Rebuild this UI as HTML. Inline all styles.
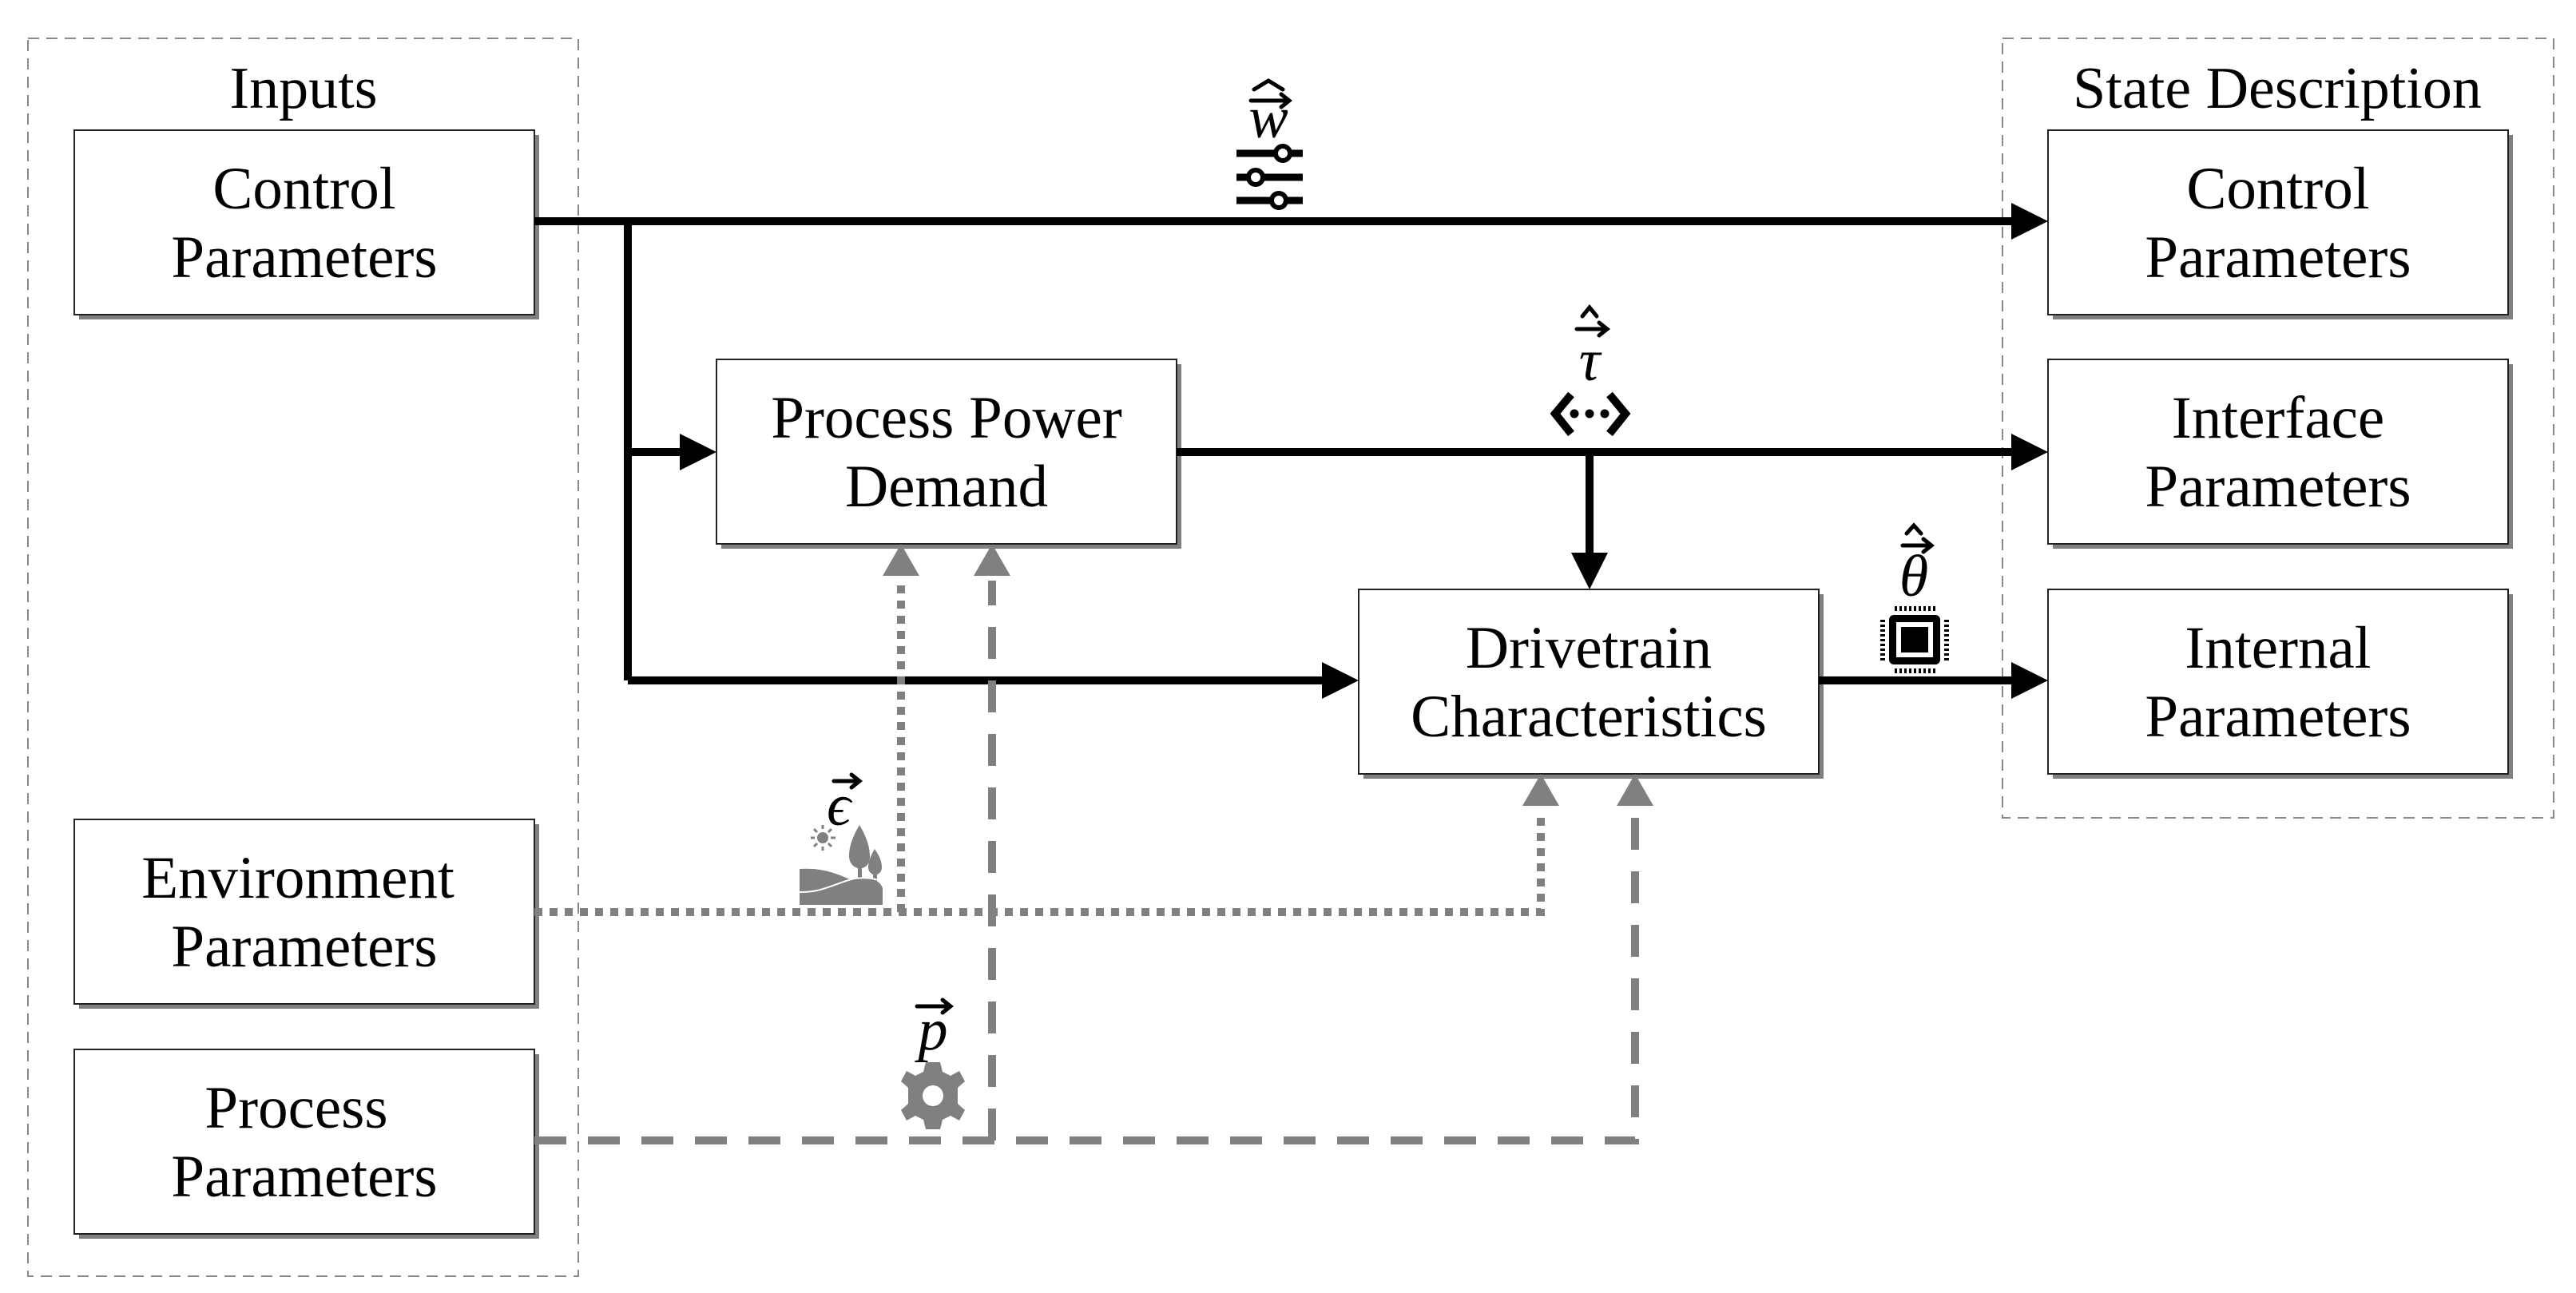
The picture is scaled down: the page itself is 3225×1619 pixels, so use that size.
<!DOCTYPE html>
<html><head><meta charset="utf-8"><style>
html,body{margin:0;padding:0;background:#fff;}
svg{display:block;}
text{font-family:"Liberation Serif",serif;}
</style></head><body>
<svg width="3225" height="1619" viewBox="0 0 3225 1619" xmlns="http://www.w3.org/2000/svg">
<rect x="35" y="48" width="689" height="1550" fill="none" stroke="#888" stroke-width="2" stroke-dasharray="14 9"/>
<rect x="2507" y="48" width="690" height="976" fill="none" stroke="#888" stroke-width="2" stroke-dasharray="14 9"/>
<text x="380" y="135" font-size="74" text-anchor="middle">Inputs</text>
<text x="2851" y="135" font-size="74" text-anchor="middle">State Description</text>

<g font-size="75" text-anchor="middle">
<g>
<rect x="99" y="169" width="576" height="231" fill="#808080"/>
<rect x="93" y="163" width="576" height="231" fill="#fff" stroke="#222" stroke-width="2"/>
<text x="381" y="261">Control</text><text x="381" y="347">Parameters</text>
</g>
<g>
<rect x="99" y="1032" width="576" height="231" fill="#808080"/>
<rect x="93" y="1026" width="576" height="231" fill="#fff" stroke="#222" stroke-width="2"/>
<text x="373" y="1124">Environment</text><text x="381" y="1210">Parameters</text>
</g>
<g>
<rect x="99" y="1320" width="576" height="231" fill="#808080"/>
<rect x="93" y="1314" width="576" height="231" fill="#fff" stroke="#222" stroke-width="2"/>
<text x="371" y="1412">Process</text><text x="381" y="1498">Parameters</text>
</g>
<g>
<rect x="903" y="456" width="576" height="231" fill="#808080"/>
<rect x="897" y="450" width="576" height="231" fill="#fff" stroke="#222" stroke-width="2"/>
<text x="1185" y="548">Process Power</text><text x="1185" y="634">Demand</text>
</g>
<g>
<rect x="1707" y="744" width="576" height="231" fill="#808080"/>
<rect x="1701" y="738" width="576" height="231" fill="#fff" stroke="#222" stroke-width="2"/>
<text x="1989" y="836">Drivetrain</text><text x="1989" y="922">Characteristics</text>
</g>
<g>
<rect x="2570" y="169" width="576" height="231" fill="#808080"/>
<rect x="2564" y="163" width="576" height="231" fill="#fff" stroke="#222" stroke-width="2"/>
<text x="2852" y="261">Control</text><text x="2852" y="347">Parameters</text>
</g>
<g>
<rect x="2570" y="456" width="576" height="231" fill="#808080"/>
<rect x="2564" y="450" width="576" height="231" fill="#fff" stroke="#222" stroke-width="2"/>
<text x="2852" y="548">Interface</text><text x="2852" y="634">Parameters</text>
</g>
<g>
<rect x="2570" y="744" width="576" height="231" fill="#808080"/>
<rect x="2564" y="738" width="576" height="231" fill="#fff" stroke="#222" stroke-width="2"/>
<text x="2852" y="836">Internal</text><text x="2852" y="922">Parameters</text>
</g>
</g>

<g stroke="#000" stroke-width="10" fill="none">
<path d="M669 277 H2520"/>
<path d="M786 277 V852"/>
<path d="M786 566 H855"/>
<path d="M786 852 H1658"/>
<path d="M1473 566 H2520"/>
<path d="M1990 566 V695"/>
<path d="M2277 852 H2520"/>
</g>
<g fill="#000">
<polygon points="2564,277 2518,254 2518,300"/>
<polygon points="897,566 851,543 851,589"/>
<polygon points="1701,852 1655,829 1655,875"/>
<polygon points="2564,566 2518,543 2518,589"/>
<polygon points="2564,852 2518,829 2518,875"/>
<polygon points="1990,738 1967,692 2013,692"/>
</g>

<g stroke="#808080" stroke-width="10" fill="none">
<path d="M669 1142 H1929 V1015" stroke-dasharray="10 9"/>
<path d="M1128 1142 V727" stroke-dasharray="10 9"/>
<path d="M669 1428 H2047 V1015" stroke-dasharray="40 27"/>
<path d="M1242 1428 V727" stroke-dasharray="40 27"/>
</g>
<g fill="#808080">
<polygon points="1128,681 1105,721 1151,721"/>
<polygon points="1242,681 1219,721 1265,721"/>
<polygon points="1929,969 1906,1009 1952,1009"/>
<polygon points="2047,969 2024,1009 2070,1009"/>
</g>

<g font-style="italic" font-size="74" text-anchor="middle">
<text x="1588" y="172">w</text>
<text x="1990" y="476">τ</text>
<text x="2396" y="746">θ</text>
<text x="1050" y="1033">ϵ</text>
<text x="1168" y="1314">p</text>
</g>
<g stroke="#000" stroke-width="5" fill="none" stroke-linecap="round">
<path d="M1566 126 H1614 M1604 118 L1614 126 L1604 134"/>
<path d="M1570 112 L1588 101 L1606 112"/>
<path d="M1974 412 H2012 M2002 404 L2012 412 L2002 420"/>
<path d="M1981 396 L1990 385 L1999 396"/>
<path d="M2382 683 H2418 M2408 675 L2418 683 L2408 691"/>
<path d="M2387 668 L2396 658 L2405 668"/>
<path d="M1044 978 H1076 M1066 970 L1076 978 L1066 986"/>
<path d="M1148 1260 H1190 M1180 1252 L1190 1260 L1180 1268"/>
</g>

<g stroke="#000" stroke-width="9" fill="none">
<path d="M1548 192 H1597 M1615 192 H1631 M1548 222 H1563 M1581 222 H1631 M1548 251 H1592 M1610 251 H1631"/>
</g>
<g stroke="#000" stroke-width="6" fill="#fff">
<circle cx="1606" cy="192" r="9"/>
<circle cx="1572" cy="222" r="9"/>
<circle cx="1601" cy="251" r="9"/>
</g>

<g stroke="#000" stroke-width="10" fill="none">
<path d="M1967 494 L1947 518 L1967 543"/>
<path d="M2015 494 L2035 518 L2015 543"/>
</g>
<g fill="#000">
<circle cx="1971" cy="518" r="5.5"/><circle cx="1990" cy="518" r="5.5"/><circle cx="2009" cy="518" r="5.5"/>
</g>

<g>
<rect x="2365" y="770" width="64" height="62" rx="6" fill="#000"/>
<rect x="2374" y="779" width="46" height="44" fill="#fff"/>
<rect x="2380" y="785" width="34" height="32" fill="#000"/>
<g stroke="#000" stroke-width="6" stroke-dasharray="3 3">
<path d="M2372 762 H2424 M2372 840 H2424"/>
<path d="M2357 776 V828 M2437 776 V828"/>
</g>
</g>

<g fill="#808080">
<circle cx="1030" cy="1049" r="7"/>
<g stroke="#808080" stroke-width="3">
<path d="M1030 1033 V1038 M1030 1060 V1065 M1015 1049 H1020 M1040 1049 H1046 M1019 1038 L1023 1042 M1041 1038 L1037 1042 M1019 1060 L1023 1056 M1041 1060 L1037 1056"/>
</g>
<path d="M1076 1033 C1066 1050 1063 1062 1063 1072 C1063 1082 1070 1086 1074 1087 V1100 H1079 V1087 C1084 1086 1089 1082 1089 1072 C1089 1062 1086 1050 1076 1033 Z"/>
<path d="M1095 1063 C1089 1073 1087 1080 1087 1086 C1087 1092 1091 1094 1093 1095 V1110 H1098 V1095 C1100 1094 1104 1092 1104 1086 C1104 1080 1102 1073 1095 1063 Z"/>
<path d="M1001 1088 C1030 1086 1050 1095 1066 1102 C1080 1097 1100 1098 1105 1112 V1133 H1001 Z"/>
</g>
<path d="M1001 1117 C1030 1118 1050 1104 1070 1100 C1085 1098 1095 1100 1105 1104" stroke="#fff" stroke-width="2" fill="none"/>

<g transform="translate(1168,1372)">
<path fill="#808080" fill-rule="evenodd" d="M-9 -42 H9 L12 -30 L22 -25 L33 -31 L40 -18 L31 -10 L31 10 L40 18 L33 31 L22 25 L12 30 L9 42 H-9 L-12 30 L-22 25 L-33 31 L-40 18 L-31 10 L-31 -10 L-40 -18 L-33 -31 L-22 -25 L-12 -30 Z M13 0 A13 13 0 1 0 -13 0 A13 13 0 1 0 13 0 Z"/>
</g>
</svg>
</body></html>
